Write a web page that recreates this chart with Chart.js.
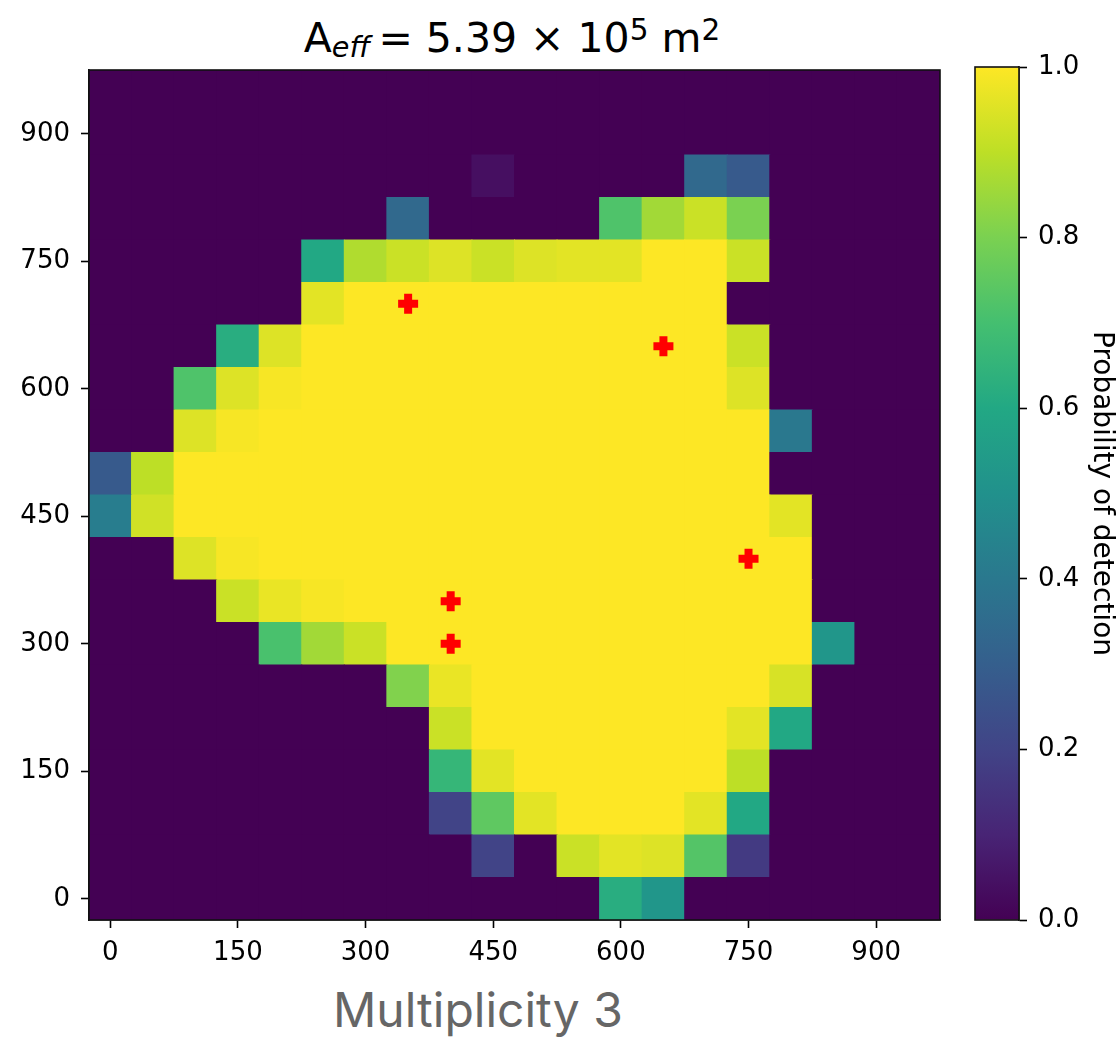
<!DOCTYPE html>
<html>
<head>
<meta charset="utf-8">
<script src="https://cdn.jsdelivr.net/npm/chart.js@4.4.1/dist/chart.umd.min.js"></script>
<style>
  html, body { margin: 0; padding: 0; background: #fff; }
  #wrap { position: relative; width: 1118px; height: 1038px; overflow: hidden; }
  #heat { position: absolute; left: 0; top: 60px; }
  #bar { position: absolute; left: 960px; top: 40px; }
  #title { position: absolute; left: 0; width: 1024px; top: 18px; text-align: center;
           font-family: 'DejaVu Sans'; font-size: 41px; line-height: 41px; white-space: nowrap; color: #000; }
  #title .sub { font-size: 70%; font-style: italic; position: relative; top: 0.17em; }
  #title .sup { font-size: 72%; position: relative; top: -0.42em; }
  #caption { position: absolute; left: 333px; top: 986px; font-family: Inter; font-size: 48px;
             line-height: 48px; color: #666; white-space: nowrap; }
</style>
</head>
<body>
<div id="wrap">
  <div id="title">A<span class="sub">eff</span>&#8201;= 5.39 × 10<span class="sup">5</span> m<span class="sup">2</span></div>
  <canvas id="heat" width="950" height="920"></canvas>
  <canvas id="bar" width="158" height="900"></canvas>
  <div id="caption">Multiplicity 3</div>
</div>
<script>
// grid cell centres (x left to right, y top row first)
const cellX = [0, 50, 100, 150, 200, 250, 300, 350, 400, 450, 500, 550, 600, 650, 700, 750, 800, 850, 900, 950];
const cellY = [950, 900, 850, 800, 750, 700, 650, 600, 550, 500, 450, 400, 350, 300, 250, 200, 150, 100, 50, 0];

// probability of detection, one row per cellY entry
const detection = [
  [0, 0, 0, 0, 0, 0, 0, 0, 0, 0, 0, 0, 0, 0, 0, 0, 0, 0, 0, 0],
  [0, 0, 0, 0, 0, 0, 0, 0, 0, 0, 0, 0, 0, 0, 0, 0, 0, 0, 0, 0],
  [0, 0, 0, 0, 0, 0, 0, 0, 0, 0.04, 0, 0, 0, 0, 0.34, 0.28, 0, 0, 0, 0],
  [0, 0, 0, 0, 0, 0, 0, 0.34, 0, 0, 0, 0, 0.72, 0.86, 0.92, 0.8, 0, 0, 0, 0],
  [0, 0, 0, 0, 0, 0.6, 0.88, 0.92, 0.95, 0.92, 0.95, 0.96, 0.96, 1, 1, 0.92, 0, 0, 0, 0],
  [0, 0, 0, 0, 0, 0.96, 1, 1, 1, 1, 1, 1, 1, 1, 1, 0, 0, 0, 0, 0],
  [0, 0, 0, 0.62, 0.95, 1, 1, 1, 1, 1, 1, 1, 1, 1, 1, 0.92, 0, 0, 0, 0],
  [0, 0, 0.72, 0.95, 0.99, 1, 1, 1, 1, 1, 1, 1, 1, 1, 1, 0.95, 0, 0, 0, 0],
  [0, 0, 0.95, 0.99, 1, 1, 1, 1, 1, 1, 1, 1, 1, 1, 1, 1, 0.4, 0, 0, 0],
  [0.28, 0.9, 1, 1, 1, 1, 1, 1, 1, 1, 1, 1, 1, 1, 1, 1, 0, 0, 0, 0],
  [0.42, 0.93, 1, 1, 1, 1, 1, 1, 1, 1, 1, 1, 1, 1, 1, 1, 0.96, 0, 0, 0],
  [0, 0, 0.95, 0.99, 1, 1, 1, 1, 1, 1, 1, 1, 1, 1, 1, 1, 1, 0, 0, 0],
  [0, 0, 0, 0.92, 0.97, 0.99, 1, 1, 1, 1, 1, 1, 1, 1, 1, 1, 1, 0, 0, 0],
  [0, 0, 0, 0, 0.71, 0.86, 0.92, 1, 1, 1, 1, 1, 1, 1, 1, 1, 1, 0.52, 0, 0],
  [0, 0, 0, 0, 0, 0, 0, 0.81, 0.97, 1, 1, 1, 1, 1, 1, 1, 0.94, 0, 0, 0],
  [0, 0, 0, 0, 0, 0, 0, 0, 0.92, 1, 1, 1, 1, 1, 1, 0.96, 0.6, 0, 0, 0],
  [0, 0, 0, 0, 0, 0, 0, 0, 0.66, 0.96, 1, 1, 1, 1, 1, 0.9, 0, 0, 0, 0],
  [0, 0, 0, 0, 0, 0, 0, 0, 0.2, 0.75, 0.96, 1, 1, 1, 0.96, 0.6, 0, 0, 0, 0],
  [0, 0, 0, 0, 0, 0, 0, 0, 0, 0.2, 0, 0.92, 0.96, 0.95, 0.73, 0.17, 0, 0, 0, 0],
  [0, 0, 0, 0, 0, 0, 0, 0, 0, 0, 0, 0, 0.62, 0.52, 0, 0, 0, 0, 0, 0]
];

// detector positions (red markers)
const markerX = [350, 650, 750, 400, 400];
const markerY = [700, 650, 400, 350, 300];

const axisTicks = [0, 150, 300, 450, 600, 750, 900];
const barTicks = [0, 0.2, 0.4, 0.6, 0.8, 1.0];

const viridisStops = ['#440154', '#482475', '#414487', '#355f8d', '#2a788e', '#21918c',
                      '#22a884', '#44bf70', '#7ad151', '#bddf26', '#fde725'];

function hexToRgb(h) {
  return [parseInt(h.slice(1, 3), 16), parseInt(h.slice(3, 5), 16), parseInt(h.slice(5, 7), 16)];
}

function viridis(v) {
  v = Math.max(0, Math.min(1, v));
  let p = v * (viridisStops.length - 1);
  let i = Math.min(Math.floor(p), viridisStops.length - 2);
  let t = p - i;
  let a = hexToRgb(viridisStops[i]), b = hexToRgb(viridisStops[i + 1]);
  let c = a.map((x, k) => Math.round(x + (b[k] - x) * t));
  return 'rgb(' + c.join(',') + ')';
}

Chart.defaults.font.family = "'DejaVu Sans'";
Chart.defaults.color = '#000';

let cells = [];
for (let r = 0; r < cellY.length; r++) {
  for (let c = 0; c < cellX.length; c++) {
    cells.push({ x: cellX[c], y: cellY[r], v: detection[r][c] });
  }
}
let markers = markerX.map((x, i) => ({ x: x, y: markerY[i] }));

const halfStep = (cellX[1] - cellX[0]) / 2;

const frame = {
  id: 'frame',
  afterDraw(chart) {
    const a = chart.chartArea;
    const ctx = chart.ctx;
    ctx.save();
    ctx.strokeStyle = '#111';
    ctx.lineWidth = 1.6;
    ctx.strokeRect(a.left, a.top, a.right - a.left, a.bottom - a.top);
    ctx.restore();
  }
};

const fixedTicks = (list) => (scale) => { scale.ticks = list.map(v => ({ value: v })); };

// pin an axis box to a fixed size and drop the label overflow padding
const pinWidth = (w) => (s) => { s.width = w; s.paddingTop = 0; s.paddingBottom = 0; };
const pinHeight = (h) => (s) => { s.height = h; s.paddingLeft = 0; s.paddingRight = 0; };

const tickFont = { family: "'DejaVu Sans'", size: 26 };

let heatChart = new Chart(document.querySelector('#heat'), {
  type: 'scatter',
  data: {
    datasets: [
      {
        data: markers,
        order: 0,
        pointStyle: 'cross',
        pointRadius: 10,
        borderWidth: 8,
        borderColor: 'rgb(255, 0, 0)',
        backgroundColor: 'rgb(255, 0, 0)',
      },
      {
        data: cells,
        order: 1,
        pointStyle: 'rect',
        borderWidth: 0,
        backgroundColor: (ctx) => viridis(ctx.raw.v),
        pointRadius: (ctx) => {
          const s = ctx.chart.scales.x;
          const half = Math.abs(s.getPixelForValue(halfStep) - s.getPixelForValue(0));
          return (half + 0.5) / Math.SQRT1_2;
        },
      },
    ]
  },
  options: {
    responsive: false,
    animation: false,
    events: [],
    layout: { autoPadding: false, padding: { top: 10, right: 10, left: 0, bottom: 0 } },
    plugins: { legend: { display: false }, tooltip: { enabled: false } },
    scales: {
      x: {
        type: 'linear',
        min: cellX[0] - halfStep,
        max: cellX[cellX.length - 1] + halfStep,
        afterBuildTicks: fixedTicks(axisTicks),
        afterFit: pinHeight(60),
        ticks: { font: tickFont, padding: 10, maxRotation: 0 },
        grid: { drawOnChartArea: false, tickLength: 8, tickColor: '#000', tickWidth: 1.6 },
        border: { display: true, color: '#111', width: 1.6 },
      },
      y: {
        type: 'linear',
        min: cellY[cellY.length - 1] - halfStep,
        max: cellY[0] + halfStep,
        afterBuildTicks: fixedTicks(axisTicks),
        afterFit: pinWidth(89),
        ticks: { font: tickFont, padding: 11 },
        grid: { drawOnChartArea: false, tickLength: 8, tickColor: '#000', tickWidth: 1.6 },
        border: { display: true, color: '#111', width: 1.6 },
      }
    }
  },
  plugins: [frame]
});

let barChart = new Chart(document.querySelector('#bar'), {
  type: 'bar',
  data: {
    labels: ['p'],
    datasets: [{
      data: [[barTicks[0], barTicks[barTicks.length - 1]]],
      barPercentage: 1,
      categoryPercentage: 1,
      borderWidth: 0,
      backgroundColor: (ctx) => {
        const ch = ctx.chart;
        if (!ch.chartArea) return viridis(0.5);
        const y = ch.scales.y;
        const g = ch.ctx.createLinearGradient(0, y.getPixelForValue(0), 0, y.getPixelForValue(1));
        viridisStops.forEach((c, i) => g.addColorStop(i / (viridisStops.length - 1), c));
        return g;
      },
    }]
  },
  options: {
    responsive: false,
    animation: false,
    events: [],
    layout: { autoPadding: false, padding: { top: 27, bottom: 20, left: 15, right: 0 } },
    plugins: { legend: { display: false }, tooltip: { enabled: false } },
    scales: {
      x: { display: false, afterFit: pinHeight(0) },
      y: {
        position: 'right',
        min: 0,
        max: 1,
        afterBuildTicks: fixedTicks(barTicks),
        afterFit: pinWidth(99),
        ticks: { font: tickFont, padding: 11, callback: (v) => v.toFixed(1) },
        grid: { drawOnChartArea: false, tickLength: 8, tickColor: '#000', tickWidth: 1.6 },
        border: { display: true, color: '#111', width: 1.6 },
        title: {
          display: true,
          text: 'Probability of detection',
          font: { family: "'DejaVu Sans'", size: 28 },
          color: '#000',
          padding: { top: 0, bottom: 0 },
        }
      }
    }
  },
  plugins: [frame]
});
</script>
</body>
</html>
